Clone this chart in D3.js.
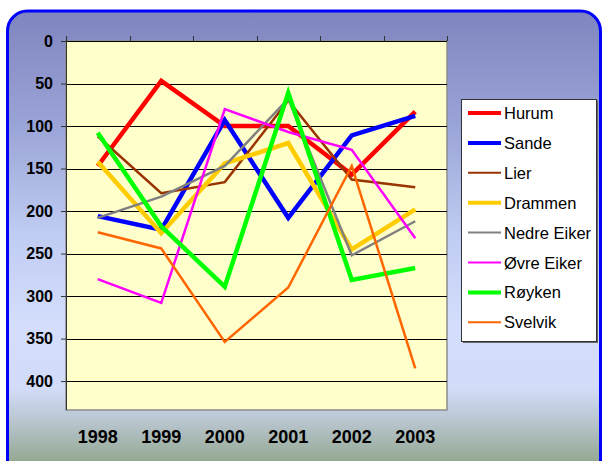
<!DOCTYPE html>
<html>
<head>
<meta charset="utf-8">
<script src="https://cdn.jsdelivr.net/npm/d3@7"></script>
<style>
  body { margin: 0; background: #fff; }
  svg { display: block; font-family: "Liberation Sans", Arial, sans-serif; }
</style>
</head>
<body>
<script>
// data (rank per year, axis reversed)
var years = ["1998", "1999", "2000", "2001", "2002", "2003"];
var yTicks = [0, 50, 100, 150, 200, 250, 300, 350, 400];
var names = ["Hurum", "Sande", "Lier", "Drammen", "Nedre Eiker", "Øvre Eiker", "Røyken", "Svelvik"];
var colors = ["#ff0000", "#0000ff", "#993300", "#ffcc00", "#808080", "#ff00ff", "#00ff00", "#ff6600"];
var widths = [4.5, 4.5, 2.5, 4.5, 2.5, 2.5, 4.5, 2.5];
var hurum = [147, 47, 100, 100, 157, 83];
var sande = [206, 222, 93, 208, 111, 88];
var lier = [112, 179, 166, 70, 163, 172];
var drammen = [142, 226, 144, 120, 245, 198];
var nedreEiker = [208, 183, 147, 68, 252, 212];
var ovreEiker = [280, 308, 80, 107, 128, 232];
var royken = [108, 218, 289, 61, 281, 267];
var svelvik = [225, 244, 354, 290, 147, 385];
var values = [hurum, sande, lier, drammen, nedreEiker, ovreEiker, royken, svelvik];

var W = 602, H = 461;
var plot = {left: 66, right: 447, top: 41, bottom: 410};

var svg = d3.select("body").append("svg")
  .attr("width", W)
  .attr("height", H);

var defs = svg.append("defs");
var grad = defs.append("linearGradient")
  .attr("id", "bg")
  .attr("gradientUnits", "userSpaceOnUse")
  .attr("x1", 0).attr("y1", 11).attr("x2", 0).attr("y2", 461);
[[0, "#7f85bf"], [0.25, "#9aa3d6"], [0.49, "#bfcbf2"], [0.7, "#d4defc"], [0.84, "#d2dcf8"],
 [0.91, "#b9c6d0"], [1, "#95a893"]].forEach(function(s) {
  grad.append("stop").attr("offset", s[0]).attr("stop-color", s[1]);
});

// outer frame
svg.append("rect")
  .attr("x", 7.5).attr("y", 11)
  .attr("width", 593).attr("height", 475)
  .attr("rx", 20).attr("ry", 20)
  .style("fill", "url(#bg)")
  .style("stroke", "#0000ff")
  .style("stroke-width", 3);

var x = d3.scaleBand().domain(years).range([plot.left, plot.right]);
var y = d3.scaleLinear().domain([0, 434]).range([plot.top, plot.bottom]);

// plot area
svg.append("rect")
  .attr("x", plot.left).attr("y", plot.top)
  .attr("width", plot.right - plot.left)
  .attr("height", plot.bottom - plot.top)
  .style("fill", "#ffffcc")
  .style("stroke", "#8c8c8c")
  .style("stroke-width", 1.5);

// gridlines
svg.append("g").selectAll("line")
  .data(yTicks)
  .enter().append("line")
  .attr("x1", plot.left).attr("x2", plot.right)
  .attr("y1", function(d) { return Math.round(y(d)) + 0.5; })
  .attr("y2", function(d) { return Math.round(y(d)) + 0.5; })
  .style("stroke", "#000")
  .style("stroke-width", 1);

// left axis
var yAxis = svg.append("g")
  .attr("transform", "translate(" + plot.left + ",0)")
  .call(d3.axisLeft(y).tickValues(yTicks).tickSize(5).tickPadding(8));
yAxis.select(".domain").attr("d", "M0.5," + plot.top + "V" + plot.bottom).style("stroke", "#333");
yAxis.selectAll(".tick line").style("stroke", "#333");
yAxis.selectAll("text")
  .style("font-size", "16px")
  .style("font-weight", "bold")
  .style("fill", "#000")
  .style("font-family", "Liberation Sans, Arial, sans-serif");

// top tick marks on category boundaries
var bounds = years.map(function(d) { return x(d); }).concat([plot.right]);
svg.append("g").selectAll("line")
  .data(bounds)
  .enter().append("line")
  .attr("x1", function(d) { return Math.round(d) + 0.5; })
  .attr("x2", function(d) { return Math.round(d) + 0.5; })
  .attr("y1", plot.top - 5).attr("y2", plot.top)
  .style("stroke", "#333");

// year labels
svg.append("g").selectAll("text")
  .data(years)
  .enter().append("text")
  .attr("x", function(d) { return x(d) + x.bandwidth() / 2; })
  .attr("y", 443)
  .attr("text-anchor", "middle")
  .style("font-size", "18px")
  .style("font-weight", "bold")
  .text(function(d) { return d; });

// series
var line = d3.line()
  .x(function(d, i) { return x(years[i]) + x.bandwidth() / 2; })
  .y(function(d) { return y(d); });

svg.append("g").selectAll("path")
  .data(values)
  .enter().append("path")
  .attr("d", line)
  .style("fill", "none")
  .style("stroke", function(d, i) { return colors[i]; })
  .style("stroke-width", function(d, i) { return widths[i]; })
  .style("stroke-linejoin", "miter");

// legend
var leg = {x: 461, y: 99, w: 135, h: 242};
svg.append("rect")
  .attr("x", leg.x + 2).attr("y", leg.y + 2)
  .attr("width", leg.w).attr("height", leg.h)
  .style("fill", "#666");
svg.append("rect")
  .attr("x", leg.x + 0.5).attr("y", leg.y + 0.5)
  .attr("width", leg.w).attr("height", leg.h)
  .style("fill", "#fff")
  .style("stroke", "#333");

var items = svg.append("g").selectAll("g")
  .data(names)
  .enter().append("g")
  .attr("transform", function(d, i) { return "translate(0," + (leg.y + 14 + i * 29.9) + ")"; });
items.append("line")
  .attr("x1", 468).attr("x2", 501)
  .attr("y1", 0).attr("y2", 0)
  .style("stroke", function(d, i) { return colors[i]; })
  .style("stroke-width", function(d, i) { return widths[i] - 0.5; });
items.append("text")
  .attr("x", 504)
  .attr("y", 6)
  .style("font-size", "16.5px")
  .text(function(d) { return d; });
</script>
</body>
</html>
